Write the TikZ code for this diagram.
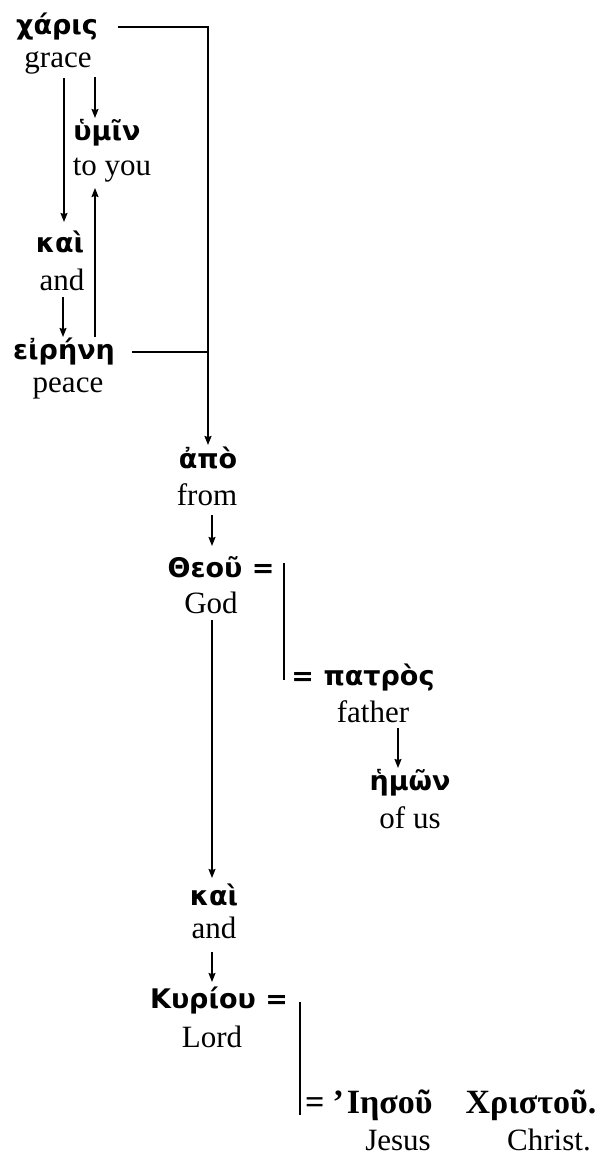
\documentclass[tikz,border=0pt]{standalone}
\usepackage{fontspec}
\setmainfont{Liberation Serif}
\newfontfamily\gkfont{DejaVu Sans}
\newfontfamily\gkserif{Liberation Serif}
\usetikzlibrary{arrows.meta}
\tikzset{
  gk/.style={inner sep=0pt, font=\gkfont\bfseries\fontsize{27}{31}\selectfont},
  gks/.style={inner sep=0pt, font=\gkserif\bfseries\fontsize{34}{38}\selectfont},
  en/.style={inner sep=0pt, font=\fontsize{31}{36}\selectfont},
  conn/.style={line width=1.3pt},
  arr/.style={conn, -{Stealth[length=9pt,width=7pt,inset=1pt]}},
  mainconn/.style={line width=1.7pt}
}
\begin{document}
\begin{tikzpicture}[x=1pt,y=-1pt]
\useasboundingbox (0,0) rectangle (603,1163);
% nodes
\node[gk] (charis) at (57,27) {χάρις};
\node[en] (grace) at (58,63) {grace};
\node[gk] (hymin) at (107,133) {ὑμῖν};
\node[en] (toyou) at (112,170) {to you};
\node[gk] (kai1) at (60,242) {καὶ};
\node[en] (and1) at (62,280) {and};
\node[gk] (eirene) at (64,352) {εἰρήνη};
\node[en] (peace) at (68,388) {peace};
\node[gk] (apo) at (208,458) {ἀπὸ};
\node[en] (from) at (207,495) {from};
\node[gk] (theou) at (221,567) {Θεοῦ =};
\node[en] (god) at (211,603) {God};
\node[gk] (patros) at (363,678) {= πατρὸς};
\node[en] (father) at (373,712) {father};
\node[gk] (hemon) at (410,783) {ἡμῶν};
\node[en] (ofus) at (410,818) {of us};
\node[gk] (kai2) at (214,895) {καὶ};
\node[en] (and2) at (214,928) {and};
\node[gk] (kyriou) at (219,1000) {Κυρίου =};
\node[en] (lord) at (212,1037) {Lord};
\node[gks, anchor=west] (iesou) at (305,1105) {=\hspace{8pt}’\hspace{3pt}Ιησοῦ};
\node[gks] (christou) at (531,1105) {Χριστοῦ.};
\node[en] (jesus) at (398,1140) {Jesus};
\node[en] (christ) at (549,1140) {Christ.};
% connectors
\draw[mainconn, -{Stealth[length=9pt,width=7pt,inset=1pt]}] ([shift={(61,0)}]charis.center) -| ([shift={(0,-13)}]apo.center);
\draw[conn] ([shift={(68,0)}]eirene.center) -- (apo.center |- eirene.center);
\draw[arr] ([shift={(6,15)}]grace.center) -- ([shift={(4,-20)}]kai1.center);
\draw[arr] ([shift={(37,14)}]grace.center) -- ([shift={(-12,-15)}]hymin.center);
\draw[arr] ([shift={(31,-15)}]eirene.center) -- ([shift={(-17,18)}]toyou.center);
\draw[arr] ([shift={(1,17)}]and1.center) -- ([shift={(-1,-15)}]eirene.center);
\draw[arr] ([shift={(5,20)}]from.center) -- ([shift={(-9,-21)}]theou.center);
\draw[conn] ([shift={(63,-4)}]theou.center) -- ([shift={(-79,2)}]patros.center);
\draw[arr] ([shift={(25,16)}]father.center) -- ([shift={(-12,-15)}]hemon.center);
\draw[arr] ([shift={(1,17)}]god.center) -- ([shift={(-2,-17)}]kai2.center);
\draw[arr] ([shift={(-2,24)}]and2.center) -- ([shift={(-7,-18)}]kyriou.center);
\draw[conn] ([shift={(81,2)}]kyriou.center) -- ([shift={(-5,10)}]iesou.west);
\end{tikzpicture}
\end{document}
